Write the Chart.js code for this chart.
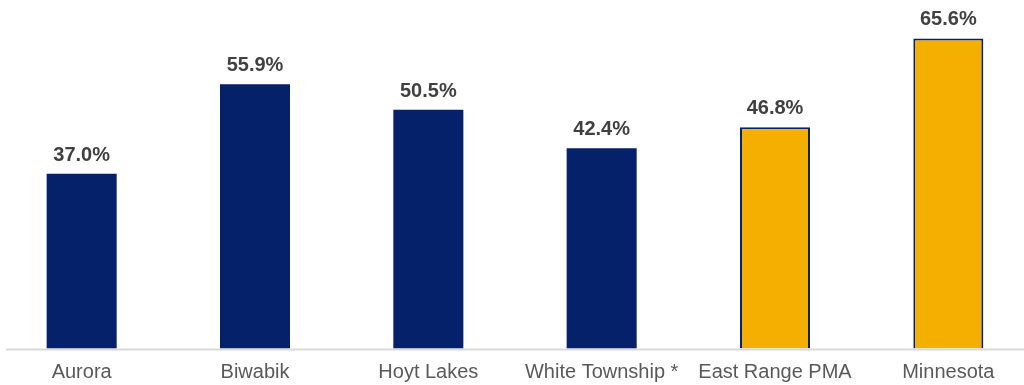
<!DOCTYPE html>
<html>
<head>
<meta charset="utf-8">
<script src="https://cdn.jsdelivr.net/npm/chart.js@4/dist/chart.umd.min.js"></script>
<style>
  html, body { margin: 0; padding: 0; background: #ffffff; }
  #wrap { position: relative; width: 1024px; height: 385px; overflow: hidden; }
  #chart { position: absolute; left: -20px; top: 0; }
</style>
</head>
<body>
<div id="wrap"><canvas id="chart" width="1060" height="385"></canvas></div>
<script>
// Share of households (percent) by area
const categories = ['Aurora', 'Biwabik', 'Hoyt Lakes', 'White Township *', 'East Range PMA', 'Minnesota'];
const values = [37.0, 55.9, 50.5, 42.4, 46.8, 65.6];
// Local places in navy, the market area and the state in gold
const isComparison = [false, false, false, false, true, true];

const NAVY = '#04216A';
const GOLD = '#F4AF00';
const FONT = "'Liberation Sans', Arial, sans-serif";

const fillColors = isComparison.map(c => c ? GOLD : NAVY);
const borderColors = isComparison.map(() => NAVY);
const borderWidths = isComparison.map(c => c ? 2 : 0);

// Percent label above each bar
const valueLabels = {
  id: 'valueLabels',
  afterDatasetsDraw(chart) {
    const ctx = chart.ctx;
    const meta = chart.getDatasetMeta(0);
    ctx.save();
    ctx.font = "bold 20px " + FONT;
    ctx.fillStyle = '#404040';
    ctx.textAlign = 'center';
    ctx.textBaseline = 'alphabetic';
    meta.data.forEach((bar, i) => {
      const v = chart.data.datasets[0].data[i];
      ctx.fillText(v.toFixed(1) + '%', bar.x, bar.y - 13);
    });
    ctx.restore();
  }
};

// Light baseline along the category axis
const baseline = {
  id: 'baseline',
  beforeDatasetsDraw(chart) {
    const ctx = chart.ctx;
    const y = chart.scales.y.getPixelForValue(0);
    ctx.save();
    ctx.strokeStyle = '#D9D9D9';
    ctx.lineWidth = 2;
    ctx.beginPath();
    ctx.moveTo(26, y + 1);
    ctx.lineTo(chart.width, y + 1);
    ctx.stroke();
    ctx.restore();
  }
};

new Chart(document.getElementById('chart'), {
  type: 'bar',
  data: {
    labels: categories,
    datasets: [{
      data: values,
      backgroundColor: fillColors,
      borderColor: borderColors,
      borderWidth: borderWidths,
      borderSkipped: 'bottom',
      categoryPercentage: 1.0,
      barPercentage: 0.404
    }]
  },
  options: {
    responsive: false,
    animation: false,
    layout: { padding: { left: 15, right: 5, top: 17.7, bottom: 0 } },
    plugins: {
      legend: { display: false },
      tooltip: { enabled: false }
    },
    scales: {
      x: {
        grid: { display: false },
        border: { display: false },
        ticks: {
          color: '#595959',
          font: { family: FONT, size: 20 },
          padding: 4,
          maxRotation: 0,
          autoSkip: false
        },
        afterFit(scale) { scale.height = 36.5; }
      },
      y: {
        display: false,
        min: 0,
        max: 70
      }
    }
  },
  plugins: [baseline, valueLabels]
});
</script>
</body>
</html>
